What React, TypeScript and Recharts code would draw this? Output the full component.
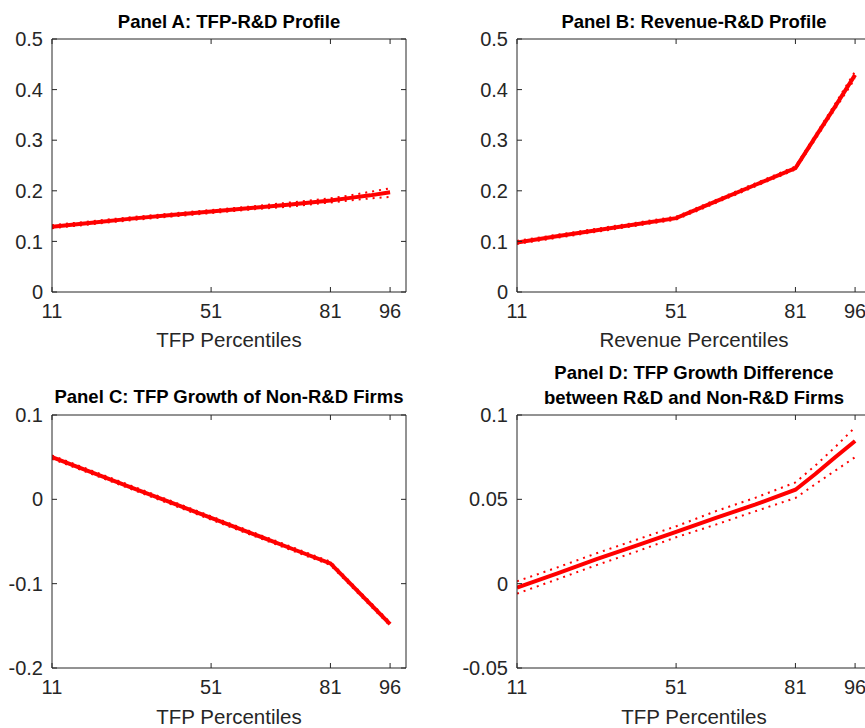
import React from 'react';
import { LineChart, Line, XAxis, YAxis } from 'recharts';

// percentiles at which the profiles are read
const percentiles = [11, 21, 31, 41, 51, 61, 71, 81, 86, 91, 96];
const xTicks = [11, 51, 81, 96];

// Panel A: TFP-R&D profile
const tfpRdMean = [0.129, 0.137, 0.145, 0.152, 0.159, 0.166, 0.173, 0.181, 0.186, 0.191, 0.197];
const tfpRdUpper = [0.132, 0.140, 0.148, 0.155, 0.162, 0.169, 0.177, 0.185, 0.191, 0.198, 0.205];
const tfpRdLower = [0.126, 0.134, 0.142, 0.149, 0.156, 0.163, 0.169, 0.177, 0.181, 0.185, 0.188];

// Panel B: Revenue-R&D profile
const revRdMean = [0.098, 0.110, 0.122, 0.134, 0.146, 0.179, 0.212, 0.245, 0.306, 0.367, 0.429];
const revRdUpper = [0.101, 0.113, 0.125, 0.137, 0.149, 0.182, 0.215, 0.248, 0.310, 0.372, 0.436];
const revRdLower = [0.095, 0.107, 0.119, 0.131, 0.143, 0.176, 0.209, 0.242, 0.302, 0.362, 0.422];

// Panel C: TFP growth of non-R&D firms
const growthMean = [0.050, 0.032, 0.014, -0.004, -0.022, -0.040, -0.058, -0.076, -0.100, -0.124, -0.148];
const growthUpper = [0.052, 0.034, 0.016, -0.002, -0.020, -0.038, -0.056, -0.074, -0.098, -0.122, -0.146];
const growthLower = [0.048, 0.030, 0.012, -0.006, -0.024, -0.042, -0.060, -0.078, -0.102, -0.126, -0.150];

// Panel D: TFP growth difference
const diffMean = [-0.0024, 0.006, 0.0145, 0.0225, 0.0307, 0.039, 0.047, 0.0557, 0.065, 0.075, 0.0846];
const diffUpper = [0.0014, 0.0095, 0.018, 0.026, 0.034, 0.043, 0.051, 0.060, 0.070, 0.081, 0.0927];
const diffLower = [-0.0059, 0.0025, 0.011, 0.019, 0.0275, 0.035, 0.043, 0.0508, 0.059, 0.067, 0.075];

const profileTicks = [0, 0.1, 0.2, 0.3, 0.4, 0.5];
const growthTicks = [-0.2, -0.1, 0, 0.1];
const diffTicks = [-0.05, 0, 0.05, 0.1];

const FONT = 'Arial, "Liberation Sans", Helvetica, sans-serif';
const AXIS = '#262626';
const RED = '#ff0000';

const buildRows = (mean: number[], upper: number[], lower: number[]) =>
  percentiles.map((p, i) => ({ p, mean: mean[i], upper: upper[i], lower: lower[i] }));

interface PanelProps {
  title: string[];
  xLabel: string;
  yTicks: number[];
  mean: number[];
  upper: number[];
  lower: number[];
  left: number;
  top: number;
  titleY: number;
  labelY: number;
}

const PLOT_W = 354;
const PLOT_H = 253;

const Panel: React.FC<PanelProps> = ({ title, xLabel, yTicks, mean, upper, lower, left, top, titleY, labelY }) => {
  const rows = buildRows(mean, upper, lower);
  const yDomain: [number, number] = [yTicks[0], yTicks[yTicks.length - 1]];
  const cx = left + PLOT_W / 2;
  return (
    <>
      {title.map((t, i) => (
        <div
          key={i}
          style={{
            position: 'absolute', left: cx - 220, width: 440, top: titleY - 11 + i * 25,
            textAlign: 'center', fontFamily: FONT, fontWeight: 'bold', fontSize: 18.5,
            lineHeight: '22px', color: '#000', whiteSpace: 'nowrap',
          }}
        >
          {t}
        </div>
      ))}
      <div
        style={{
          position: 'absolute', left: cx - 200, width: 400, top: labelY - 12,
          textAlign: 'center', fontFamily: FONT, fontSize: 20.5, lineHeight: '24px', color: AXIS,
        }}
      >
        {xLabel}
      </div>
      <div style={{ position: 'absolute', left: left - 60, top: top - 10 }}>
        <LineChart
          width={PLOT_W + 70}
          height={PLOT_H + 50}
          data={rows}
          margin={{ top: 5, right: 5, bottom: 10, left: 5 }}
          style={{ fontFamily: FONT }}
        >
          <XAxis
            xAxisId="b" dataKey="p" type="number" domain={[11, 100]} ticks={xTicks} interval={0}
            allowDataOverflow orientation="bottom" height={30} tickSize={-5} tickMargin={17}
            stroke={AXIS} tick={{ fill: AXIS, fontSize: 20 }}
          />
          <XAxis
            xAxisId="t" dataKey="p" type="number" domain={[11, 100]} ticks={xTicks} interval={0}
            allowDataOverflow orientation="top" height={5} tickSize={-5} tickFormatter={() => ''}
            stroke={AXIS}
          />
          <YAxis
            yAxisId="l" type="number" domain={yDomain} ticks={yTicks} interval={0} allowDataOverflow
            width={55} tickSize={-5} tickMargin={14} stroke={AXIS} tick={{ fill: AXIS, fontSize: 20 }}
          />
          <YAxis
            yAxisId="r" type="number" domain={yDomain} ticks={yTicks} interval={0} allowDataOverflow
            orientation="right" width={5} tickSize={-5} tickFormatter={() => ''} stroke={AXIS}
          />
          <Line
            xAxisId="b" yAxisId="l" dataKey="mean" type="linear" stroke={RED} strokeWidth={4}
            dot={false} isAnimationActive={false}
          />
          <Line
            xAxisId="b" yAxisId="l" dataKey="upper" type="linear" stroke={RED} strokeWidth={2}
            strokeDasharray="2 5" dot={false} isAnimationActive={false}
          />
          <Line
            xAxisId="b" yAxisId="l" dataKey="lower" type="linear" stroke={RED} strokeWidth={2}
            strokeDasharray="2 5" dot={false} isAnimationActive={false}
          />
        </LineChart>
      </div>
    </>
  );
};

export default function App() {
  return (
    <div style={{ position: 'absolute', left: 0, top: 0, width: 865, height: 728, overflow: 'hidden', background: '#fff' }}>
      <Panel
        title={['Panel A: TFP-R&D Profile']} xLabel="TFP Percentiles" yTicks={profileTicks}
        mean={tfpRdMean} upper={tfpRdUpper} lower={tfpRdLower}
        left={52} top={39} titleY={22} labelY={340}
      />
      <Panel
        title={['Panel B: Revenue-R&D Profile']} xLabel="Revenue Percentiles" yTicks={profileTicks}
        mean={revRdMean} upper={revRdUpper} lower={revRdLower}
        left={517} top={39} titleY={22} labelY={340}
      />
      <Panel
        title={['Panel C: TFP Growth of Non-R&D Firms']} xLabel="TFP Percentiles" yTicks={growthTicks}
        mean={growthMean} upper={growthUpper} lower={growthLower}
        left={52} top={415} titleY={397} labelY={717}
      />
      <Panel
        title={['Panel D: TFP Growth Difference', 'between R&D and Non-R&D Firms']} xLabel="TFP Percentiles"
        yTicks={diffTicks} mean={diffMean} upper={diffUpper} lower={diffLower}
        left={517} top={415} titleY={373} labelY={717}
      />
    </div>
  );
}
